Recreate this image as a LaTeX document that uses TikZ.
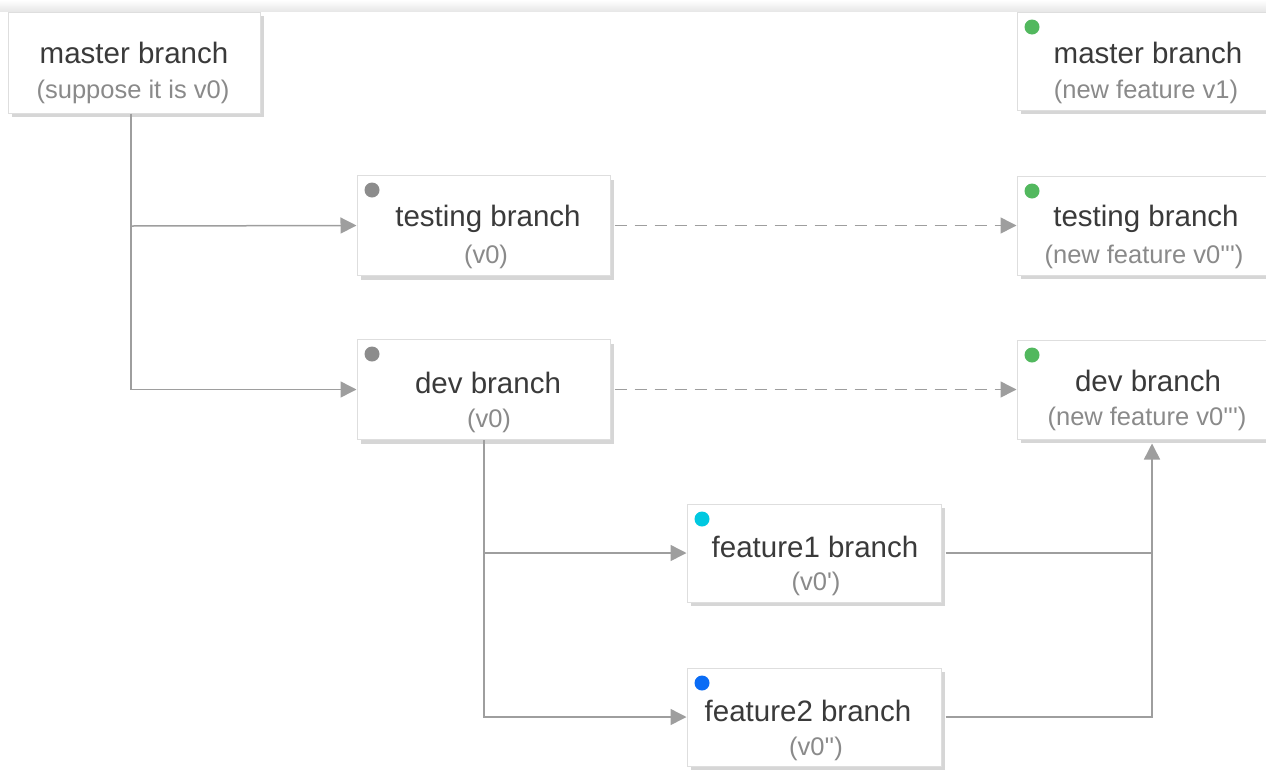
\documentclass[tikz,border=0pt]{standalone}
\usepackage{fontspec}
\setmainfont{Liberation Sans}
\usetikzlibrary{arrows.meta,shadows}
\definecolor{titlec}{HTML}{3A3A3A}
\definecolor{subc}{HTML}{8A8A8A}
\definecolor{borderc}{HTML}{DEDEDE}
\definecolor{shadowc}{HTML}{D6D6D6}
\definecolor{linec}{HTML}{9E9E9E}
\definecolor{dotgray}{HTML}{8C8C8C}
\definecolor{dotgreen}{HTML}{52B85E}
\definecolor{dotcyan}{HTML}{00C8E0}
\definecolor{dotblue}{HTML}{0A6CF5}
\newcommand{\sq}{\textquotesingle}
\tikzset{
  box/.style={draw=borderc, fill=white, line width=1pt, inner sep=0pt, rectangle,
    general shadow={fill=shadowc, shadow xshift=4pt, shadow yshift=-4pt}},
  lbox/.style={box, minimum width=253pt, minimum height=100pt},
  rbox/.style={box, minimum width=260pt, minimum height=99pt},
  ttl/.style={text=titlec, font=\fontsize{29.5}{34}\selectfont, inner sep=0pt},
  sub/.style={text=subc, font=\fontsize{25.5}{30}\selectfont, inner sep=0pt},
  dot/.style={circle, inner sep=0pt, minimum size=15pt},
  conn/.style={draw=linec, line width=1.5pt},
  arr/.style={conn, -{Triangle[length=16pt,width=16pt]}},
  darr/.style={arr, dash pattern=on 12pt off 8pt},
}
\begin{document}
\begin{tikzpicture}[x=1pt,y=-1pt]
\useasboundingbox (0,0) rectangle (1266,769);
\shade[top color=white, bottom color=black!9] (0,0) rectangle (1266,11);
% left column boxes
\node[lbox, minimum width=252pt, minimum height=101pt] (m0) at (134,62.5) {};
\node[lbox] (tb) at (483.5,225.5) {};
\node[lbox] (db) at (483.5,389.5) {};
\node[lbox, minimum width=254pt, minimum height=98pt] (f1) at (814,553) {};
\node[lbox, minimum width=254pt, minimum height=98pt] (f2) at (814,717) {};
% right column boxes
\node[rbox, minimum height=98pt] (rm) at (1147,61) {};
\node[rbox] (rt) at (1147,225.5) {};
\node[rbox] (rd) at (1147,389.5) {};
% dots
\node[dot, fill=dotgray] (d1) at (372,190) {};
\node[dot, fill=dotgray] (d2) at (372,354) {};
\node[dot, fill=dotcyan] (d3) at (702,519) {};
\node[dot, fill=dotblue] (d4) at (702,683) {};
\node[dot, fill=dotgreen] (d5) at (1032,27) {};
\node[dot, fill=dotgreen] (d6) at (1032,191) {};
\node[dot, fill=dotgreen] (d7) at (1032,355) {};
% texts
\node[ttl] (m0t) at (134,53) {master branch};
\node[sub] (m0s) at (133,92) {(suppose it is v0)};
\node[ttl] (tbt) at (488,219) {testing branch};
\node[sub] (tbs) at (486,257) {(v0)};
\node[ttl] (dbt) at (488,383) {dev branch};
\node[sub] (dbs) at (489,421) {(v0)};
\node[ttl] (f1t) at (815,547) {feature1 branch};
\node[sub] (f1s) at (816,584) {(v0\sq)};
\node[ttl] (f2t) at (808,711) {feature2 branch};
\node[sub] (f2s) at (816,749) {(v0\sq\sq)};
\node[ttl] (rmt) at (1148,53) {master branch};
\node[sub] (rms) at (1146,92) {(new feature v1)};
\node[ttl] (rtt) at (1146,219) {testing branch};
\node[sub] (rts) at (1144,257) {(new feature v0\sq\sq\sq)};
\node[ttl] (rdt) at (1148,381) {dev branch};
\node[sub] (rds) at (1147,419) {(new feature v0\sq\sq\sq)};
% connectors
\coordinate (j1) at (131,226);
\coordinate (j2) at (484,553);
\coordinate (j3) at (1152,553);
\draw[arr] (m0.south -| j1) |- (db.west);
\draw[arr] (j1) -- (tb.west);
\draw[darr, shorten <=4pt] (tb.east) -- (rt.west);
\draw[darr, shorten <=4pt] (db.east) -- (rd.west);
\draw[arr] (db.south -| j2) |- (f2.west);
\draw[arr] (j2) -- (f1.west);
\draw[conn, shorten <=4pt] (f1.east) -- (j3);
\draw[arr, shorten <=4pt, shorten >=4pt] (f2.east) -| (rd.south -| j3);
\end{tikzpicture}
\end{document}
